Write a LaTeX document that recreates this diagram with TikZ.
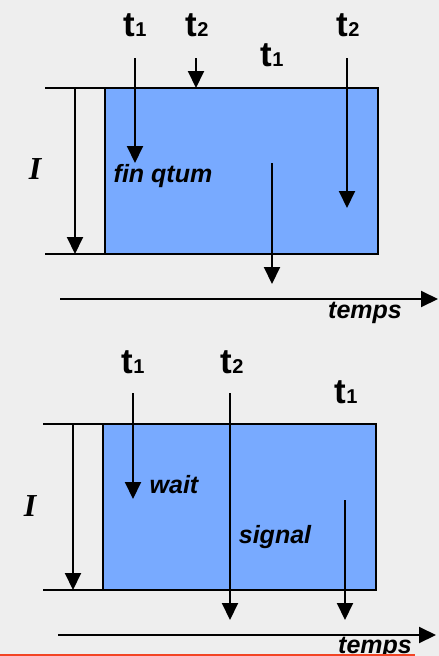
\documentclass[tikz,border=0pt]{standalone}
\usepackage{fontspec}
\setmainfont{Liberation Sans}
\newfontfamily\serifI{Liberation Serif}
\usetikzlibrary{arrows.meta, positioning}
\definecolor{fondgris}{HTML}{EEEEEE}
\definecolor{bleuzone}{HTML}{78AAFF}
\definecolor{rougebas}{HTML}{F24424}
\newcommand{\tlab}[1]{{\fontsize{35}{35}\selectfont t}{\fontsize{20}{20}\selectfont #1}}

\begin{document}
\begin{tikzpicture}[
		x=1pt, y=-1pt,
		zone/.style={draw, line width=1.5pt, fill=bleuzone},
		bord/.style={line width=1.5pt},
		fleche/.style={-{Triangle[length=17pt, width=16pt]}, line width=2pt},
		tnom/.style={font=\bfseries, inner sep=0pt, anchor=base},
		evt/.style={font=\bfseries\itshape\fontsize{25}{25}\selectfont, inner sep=0pt},
		inom/.style={font=\serifI\bfseries\itshape\fontsize{32}{32}\selectfont, inner sep=0pt}
		]
		\fill[fondgris] (0,0) rectangle (439,656);
		\useasboundingbox (0,0) rectangle (439,656);
		
		% 1. Premier schema (fin de quantum)
		\draw[zone] (105,88) rectangle (378,254);
		\draw[bord] (45,88) -- (105,88);
		\draw[bord] (45,254) -- (105,254);
		\coordinate (ihA) at (75,88);
		\coordinate (ibA) at (75,254);
		\draw[fleche] (ihA) -- (ibA);
		\node[inom] (iA) at (35,169) {I};
		
		\node[tnom] (t1a) at (135,36) {\tlab{1}};
		\node[tnom] (t2a) at (197,36) {\tlab{2}};
		\node[tnom] (t1b) at (272,66) {\tlab{1}};
		\node[tnom] (t2b) at (348,36) {\tlab{2}};
		\coordinate (a1) at (135,58);  \coordinate (b1) at (135,163);
		\coordinate (a2) at (196,58);  \coordinate (b2) at (196,88);
		\coordinate (a3) at (272,163); \coordinate (b3) at (272,284);
		\coordinate (a4) at (347,58);  \coordinate (b4) at (347,208);
		\draw[fleche] (a1) -- (b1);
		\draw[fleche] (a2) -- (b2);
		\draw[fleche] (a3) -- (b3);
		\draw[fleche] (a4) -- (b4);
		\node[evt] (finq) at (163,176) {fin qtum};
		
		\coordinate (taxA) at (60,299);
		\coordinate (taxB) at (438,299);
		\draw[fleche] (taxA) -- (taxB);
		\node[evt] (tpsA) at (365,313) {temps};
		
		% 2. Second schema (wait / signal)
		\draw[zone] (103,424) rectangle (376,590);
		\draw[bord] (43,424) -- (103,424);
		\draw[bord] (43,590) -- (103,590);
		\coordinate (ihB) at (73,424);
		\coordinate (ibB) at (73,590);
		\draw[fleche] (ihB) -- (ibB);
		\node[inom] (iB) at (30,506) {I};
		
		\node[tnom] (t1c) at (133,373) {\tlab{1}};
		\node[tnom] (t2c) at (232,373) {\tlab{2}};
		\node[tnom] (t1d) at (346,403) {\tlab{1}};
		\coordinate (c1) at (133,393); \coordinate (d1) at (133,499);
		\coordinate (c2) at (230,393); \coordinate (d2) at (230,620);
		\coordinate (c3) at (345,500); \coordinate (d3) at (345,620);
		\draw[fleche] (c1) -- (d1);
		\draw[fleche] (c2) -- (d2);
		\draw[fleche] (c3) -- (d3);
		\node[evt] (wait) at (174,485) {wait};
		\node[evt] (signal) at (275,537) {signal};
		
		\coordinate (taxC) at (58,635);
		\coordinate (taxD) at (436,635);
		\draw[fleche] (taxC) -- (taxD);
		\node[evt] (tpsB) at (375,648) {temps};
		
		% filet rouge du bas
		\fill[rougebas] (0,653.5) rectangle (415,656);
		
	\end{tikzpicture}
\end{document}
